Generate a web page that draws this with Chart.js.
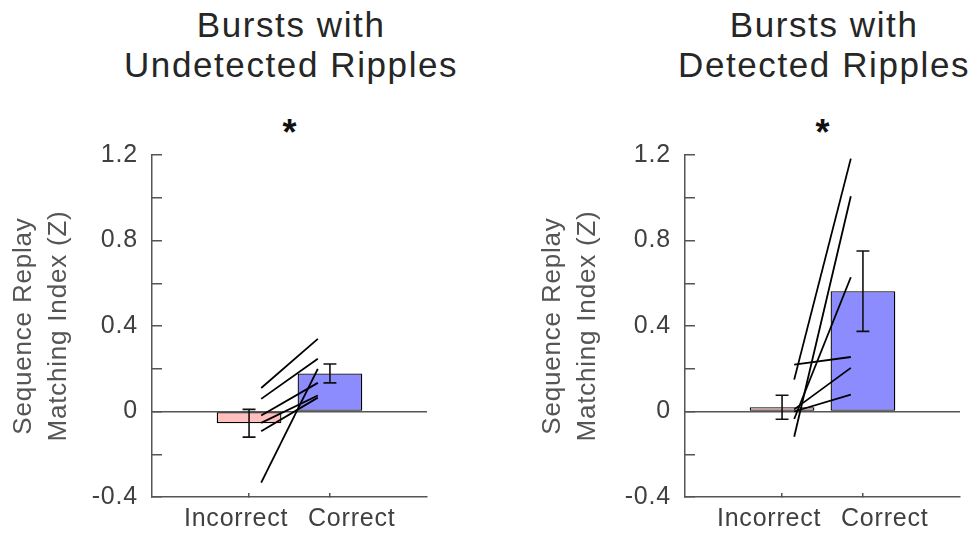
<!DOCTYPE html>
<html>
<head>
<meta charset="utf-8">
<script src="https://cdn.jsdelivr.net/npm/chart.js@4/dist/chart.umd.min.js"></script>
<style>
  body { margin: 0; width: 972px; height: 536px; position: relative; background: #fff; overflow: hidden; }
  canvas { position: absolute; top: 0; }
  .title {
    position: absolute; width: 400px; text-align: center; white-space: nowrap;
    font-family: "Liberation Sans", Arial, sans-serif; font-size: 35px; line-height: 40px;
    letter-spacing: 1.6px; padding-left: 1.6px; color: #262626;
  }
  .star {
    position: absolute; width: 100px; text-align: center;
    font-family: "Liberation Sans", Arial, sans-serif; font-weight: bold; font-size: 36px; line-height: 36px;
    color: #111;
  }
</style>
</head>
<body>
<div class="title" style="left:89.5px; top:5px;">Bursts with<br>Undetected Ripples</div>
<div class="star" style="left:239.5px; top:115px;">*</div>
<div class="title" style="left:622.5px; top:5px;">Bursts with<br>Detected Ripples</div>
<div class="star" style="left:772.5px; top:115px;">*</div>

<canvas id="undetected" width="486" height="536" style="left:0"></canvas>
<canvas id="detected" width="486" height="536" style="left:486px"></canvas>

<script>
// groups on the x axis
const categories = ['Incorrect', 'Correct'];

// group means and error bar half-lengths
const undetectedMeans = [-0.055, 0.178];
const undetectedErrors = [0.065, 0.044];
const detectedMeans = [0.020, 0.563];
const detectedErrors = [0.056, 0.188];

// paired values per subject (incorrect -> correct)
const undetectedIncorrect = [0.110, 0.059, -0.019, -0.053, -0.092, -0.333];
const undetectedCorrect = [0.340, 0.247, 0.134, 0.075, 0.065, 0.199];
const detectedIncorrect = [0.149, -0.118, -0.035, 0.219, 0.010, 0.000];
const detectedCorrect = [1.183, 1.007, 0.628, 0.255, 0.204, 0.079];

// y axis ticks, labels only every other one
const yTickValues = [-0.4, -0.2, 0, 0.2, 0.4, 0.6, 0.8, 1.0, 1.2];
const yTickLabels = ['-0.4', '', '0', '', '0.4', '', '0.8', '', '1.2'];

const axisGray = '#555555';
const textGray = '#404040';
const fontFamily = '"Liberation Sans", Arial, sans-serif';
const barColors = ['#ffbfbf', '#8c8cff'];
const capHalf = 0.08;
// group names sit a bit apart from the tick marks
const labelSpots = [0.84, 2.27];

// canvas text a little wider, like the exported figure
const spacingPlugin = {
  id: 'spacing',
  beforeDraw(chart) {
    chart.ctx.letterSpacing = '0.8px';
  }
};

function errorBarPoints(means, errors) {
  const pts = [];
  means.forEach((m, i) => {
    const x = i + 1;
    const hi = m + errors[i];
    const lo = m - errors[i];
    pts.push(
      { x: x - capHalf, y: hi }, { x: x + capHalf, y: hi }, { x: x, y: null },
      { x: x, y: hi }, { x: x, y: lo }, { x: x, y: null },
      { x: x - capHalf, y: lo }, { x: x + capHalf, y: lo }, { x: x, y: null }
    );
  });
  return pts;
}

function buildPanel(canvasId, means, errors, incorrectVals, correctVals, layoutOpts) {
  const subjectLines = incorrectVals.map((v, i) => ({
    type: 'line',
    data: [{ x: 1.15, y: v }, { x: 1.85, y: correctVals[i] }],
    borderColor: '#000',
    borderWidth: 1.8,
    pointRadius: 0,
    tension: 0,
    order: 2
  }));

  return new Chart(document.getElementById(canvasId), {
    type: 'bar',
    data: {
      datasets: [
        {
          type: 'bar',
          data: means.map((m, i) => ({ x: i + 1, y: m })),
          backgroundColor: barColors,
          borderColor: '#000',
          borderWidth: 1.3,
          borderSkipped: false,
          categoryPercentage: 1,
          barPercentage: 0.8,
          order: 3
        },
        ...subjectLines,
        {
          type: 'line',
          data: errorBarPoints(means, errors),
          borderColor: '#111',
          borderWidth: 1.6,
          pointRadius: 0,
          spanGaps: false,
          order: 1
        }
      ]
    },
    options: {
      responsive: false,
      animation: false,
      events: [],
      layout: { padding: { top: 155, right: layoutOpts.right, bottom: 0, left: 0 } },
      plugins: { legend: { display: false }, tooltip: { enabled: false } },
      scales: {
        x: {
          type: 'linear',
          position: 'bottom',
          weight: 0,
          min: -0.2,
          max: 3.2,
          offset: false,
          afterBuildTicks: (s) => { s.ticks = [1, 2].map((v) => ({ value: v })); },
          afterFit: (s) => { s.height = 0; },
          ticks: { display: false },
          grid: { drawOnChartArea: false, offset: false, tickLength: -4, color: axisGray, tickColor: axisGray, lineWidth: 1.5 },
          border: { color: axisGray, width: 1.5 }
        },
        xNames: {
          type: 'linear',
          position: 'bottom',
          axis: 'x',
          weight: 1,
          min: -0.2,
          max: 3.2,
          offset: false,
          afterBuildTicks: (s) => { s.ticks = labelSpots.map((v) => ({ value: v })); },
          afterFit: (s) => { s.height = 38; },
          ticks: {
            callback: (v, i) => categories[i],
            color: textGray,
            font: { family: fontFamily, size: 25 },
            padding: 7,
            autoSkip: false,
            maxRotation: 0
          },
          grid: { display: false, drawTicks: false },
          border: { display: false }
        },
        y: {
          type: 'linear',
          min: -0.4,
          max: 1.2,
          afterBuildTicks: (s) => { s.ticks = yTickValues.map((v) => ({ value: v })); },
          afterFit: (s) => { s.width = layoutOpts.yWidth; },
          ticks: {
            callback: (v, i) => yTickLabels[i],
            color: textGray,
            font: { family: fontFamily, size: 25 },
            padding: 24,
            autoSkip: false
          },
          grid: {
            tickLength: -10,
            lineWidth: 1.5,
            tickColor: axisGray,
            // only the zero baseline runs across the plot
            color: (ctx) => (ctx.tick && ctx.tick.value === 0 ? axisGray : 'rgba(0,0,0,0)')
          },
          border: { color: axisGray, width: 1.5 },
          title: {
            display: true,
            text: ['Sequence Replay', 'Matching Index (Z)'],
            color: '#555',
            font: { family: fontFamily, size: 26, lineHeight: 1.33 },
            padding: { top: layoutOpts.titlePad, bottom: 0 }
          }
        }
      }
    },
    plugins: [spacingPlugin]
  });
}

buildPanel('undetected', undetectedMeans, undetectedErrors, undetectedIncorrect, undetectedCorrect,
  { right: 59, yWidth: 152, titlePad: 7 });
buildPanel('detected', detectedMeans, detectedErrors, detectedIncorrect, detectedCorrect,
  { right: 12, yWidth: 199, titlePad: 50 });
</script>
</body>
</html>
